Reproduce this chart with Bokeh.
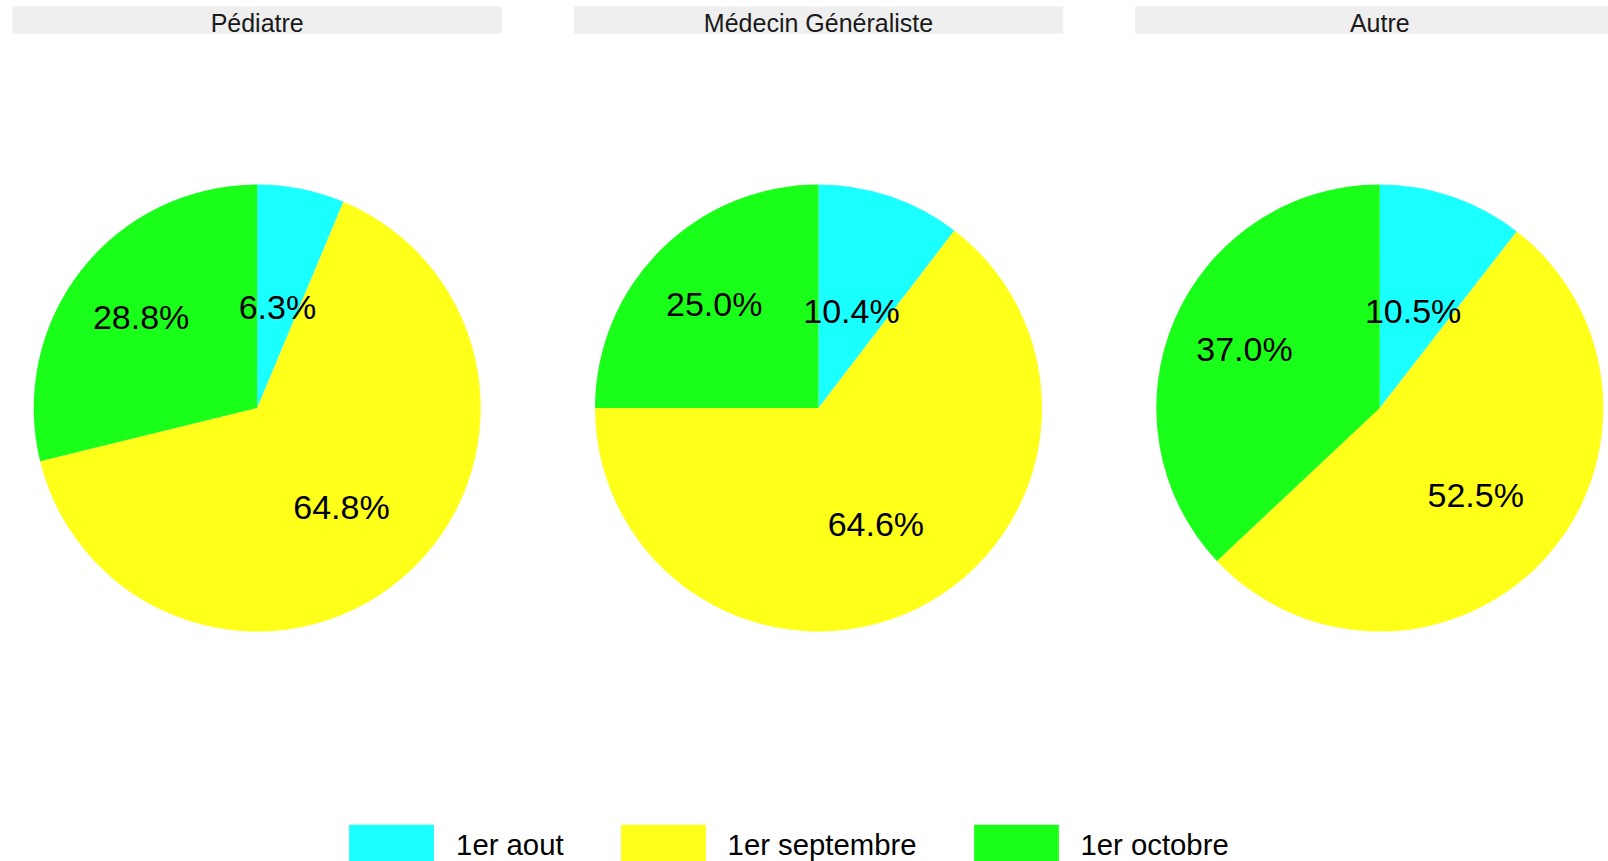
import math
from bokeh.plotting import figure
from bokeh.models import ColumnDataSource, Legend, LegendItem, Range1d
from bokeh.core.properties import value
from bokeh.embed import file_html
from bokeh.resources import INLINE

# ---- data ----
panels = ["Pédiatre", "Médecin Généraliste", "Autre"]
series = ["1er aout", "1er septembre", "1er octobre"]
pediatre = [6.3, 64.8, 28.8]
generaliste = [10.4, 64.6, 25.0]
autre = [10.5, 52.5, 37.0]
colors = ["#1AFFFF", "#FFFF1A", "#1AFF1A"]

# ---- layout / style constants ----
W, H = 1608, 861
CX0 = 256.7      # first pie centre
DX = 561.3       # distance between facets
CY = 453.5
R = 223.5
LABEL_R = [0.46, 0.58, 0.66]
STRIP_W = 489.5
STRIP_TOP, STRIP_BOTTOM = 855, 828
FONT = "Liberation Sans"

p = figure(width=W, height=H, x_range=Range1d(0, W), y_range=Range1d(0, H),
           x_axis_type=None, y_axis_type=None, toolbar_location=None,
           output_backend="svg", min_border=0, outline_line_color=None,
           background_fill_color="white", border_fill_color="white")
p.grid.visible = False

vals = [pediatre, generaliste, autre]
centers = [CX0 + i * DX for i in range(len(panels))]

# facet strips
p.quad(left=[c - STRIP_W / 2 for c in centers], right=[c + STRIP_W / 2 for c in centers],
       top=STRIP_TOP, bottom=STRIP_BOTTOM, fill_color="#EFEFEF", line_color=None)
p.text(x=centers, y=[839] * len(centers), text=panels, text_align="center",
       text_baseline="middle", text_font=value(FONT), text_font_size="25px",
       text_color="#1A1A1A")

renderers = []
lx, ly, lt = [], [], []
for j, s in enumerate(series):
    xs, starts, ends = [], [], []
    for i, v in enumerate(vals):
        tot = sum(v)
        c0 = sum(v[:j]) / tot
        c1 = sum(v[:j + 1]) / tot
        xs.append(centers[i])
        starts.append(math.pi / 2 - 2 * math.pi * c0)
        ends.append(math.pi / 2 - 2 * math.pi * c1)
        mid = math.pi / 2 - 2 * math.pi * (c0 + c1) / 2
        lx.append(centers[i] + LABEL_R[j] * R * math.cos(mid))
        ly.append(CY + LABEL_R[j] * R * math.sin(mid))
        lt.append(f"{v[j]:.1f}%")
    src = ColumnDataSource(dict(x=xs, y=[CY] * len(xs), start=starts, end=ends))
    r = p.wedge(x="x", y="y", radius=R, start_angle="start", end_angle="end",
                direction="clock", fill_color=colors[j], line_color=None, source=src)
    renderers.append(r)

p.text(x=lx, y=ly, text=lt, text_align="center", text_baseline="middle",
       text_font=value(FONT), text_font_size="34px", text_color="black")

legend = Legend(items=[LegendItem(label=s, renderers=[r]) for s, r in zip(series, renderers)],
                orientation="horizontal", location=(338.1, -10.3),
                glyph_width=106, glyph_height=52, label_height=52, label_standoff=12,
                spacing=46, padding=0, margin=0, border_line_color=None,
                background_fill_alpha=0, label_text_font=FONT,
                label_text_font_size="29.3px", label_text_color="black")
p.add_layout(legend)

open("out.html", "w").write(file_html(p, INLINE))
